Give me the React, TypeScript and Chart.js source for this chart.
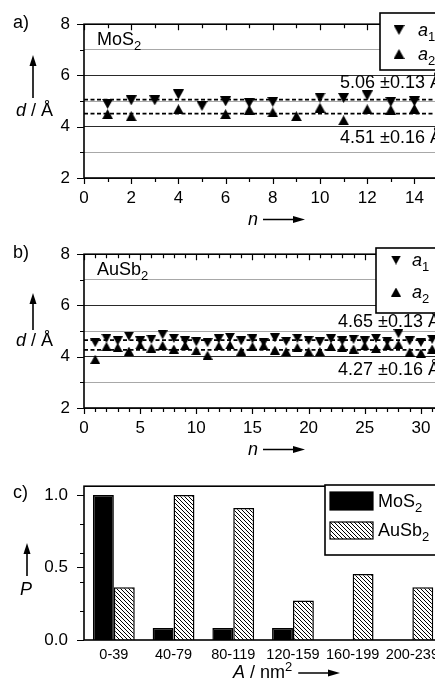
import React, { useEffect, useRef } from 'react';
import { Chart, registerables } from 'chart.js';
Chart.register(...registerables);

const FONT = '"Liberation Sans", Arial, Helvetica, sans-serif';

// ---- Panel a: MoS2 ----
const nMoS2 = [1, 2, 3, 4, 5, 6, 7, 8, 9, 10, 11, 12, 13, 14];
const a1MoS2 = [4.89, 5.03, 5.03, 5.26, 4.81, 4.99, 4.93, 4.97, null, 5.14, 5.12, 5.22, 4.97, 4.99];
const a2MoS2 = [4.49, 4.41, null, 4.68, null, 4.49, 4.66, 4.56, 4.41, 4.74, 4.25, 4.68, 4.66, 4.7];
const meanMoS2 = [5.06, 4.51];
const meanLabelsMoS2 = ['5.06 ±0.13 Å', '4.51 ±0.16 Å'];

// ---- Panel b: AuSb2 ----
const nAuSb2 = [1, 2, 3, 4, 5, 6, 7, 8, 9, 10, 11, 12, 13, 14, 15, 16, 17, 18, 19, 20, 21, 22, 23, 24, 25, 26, 27, 28, 29, 30, 31];
const a1AuSb2 = [4.55, 4.72, 4.62, 4.8, 4.62, 4.68, 4.86, 4.72, 4.62, 4.58, 4.55, 4.7, 4.76, 4.62, 4.7, 4.56, 4.74, 4.6, 4.72, 4.64, 4.58, 4.7, 4.62, 4.68, 4.62, 4.72, 4.6, 4.9, 4.62, 4.56, 4.68];
const a2AuSb2 = [3.9, 4.4, 4.36, 4.22, 4.46, 4.34, 4.44, 4.3, 4.44, 4.24, 4.06, 4.42, 4.46, 4.22, 4.4, 4.44, 4.26, 4.2, 4.36, 4.2, 4.2, 4.4, 4.36, 4.3, 4.42, 4.32, 4.42, 4.48, 4.18, 4.14, 4.3];
const meanAuSb2 = [4.65, 4.27];
const meanLabelsAuSb2 = ['4.65 ±0.13 Å', '4.27 ±0.16 Å'];

// ---- Panel c: area distribution ----
const areaBins = ['0-39', '40-79', '80-119', '120-159', '160-199', '200-239'];
const pMoS2 = [1.0, 0.083, 0.083, 0.083, 0, 0];
const pAuSb2 = [0.364, 1.0, 0.909, 0.273, 0.455, 0.364];
const pTicks = [0, 0.2, 0.4, 0.5, 0.6, 0.8, 1.0];
const pLabelTicks = [0, 0.5, 1.0];

const CW = 470;
const CH = 230;

type Part = { t: string; it?: boolean; sub?: boolean; sup?: boolean };

function rich(ctx: CanvasRenderingContext2D, parts: Part[], x: number, y: number, size: number) {
  let cx = x;
  ctx.textAlign = 'left';
  ctx.textBaseline = 'alphabetic';
  for (const p of parts) {
    const s = p.sub || p.sup ? Math.round(size * 0.72) : size;
    ctx.font = `${p.it ? 'italic ' : ''}${s}px ${FONT}`;
    const dy = p.sub ? size * 0.3 : p.sup ? -size * 0.4 : 0;
    ctx.fillText(p.t, cx, y + dy);
    cx += ctx.measureText(p.t).width;
  }
  return cx;
}

function arrowUp(ctx: CanvasRenderingContext2D, x: number, top: number, bottom: number) {
  ctx.beginPath();
  ctx.lineWidth = 1.6;
  ctx.moveTo(x, bottom);
  ctx.lineTo(x, top + 8);
  ctx.stroke();
  ctx.beginPath();
  ctx.moveTo(x, top);
  ctx.lineTo(x - 3.5, top + 11);
  ctx.lineTo(x + 3.5, top + 11);
  ctx.closePath();
  ctx.fill();
}

function arrowRight(ctx: CanvasRenderingContext2D, x1: number, x2: number, y: number) {
  ctx.beginPath();
  ctx.lineWidth = 1.6;
  ctx.moveTo(x1, y);
  ctx.lineTo(x2 - 8, y);
  ctx.stroke();
  ctx.beginPath();
  ctx.moveTo(x2, y);
  ctx.lineTo(x2 - 12, y - 3.5);
  ctx.lineTo(x2 - 12, y + 3.5);
  ctx.closePath();
  ctx.fill();
}

function makeTri(w: number, h: number, down: boolean) {
  const c = document.createElement('canvas');
  c.width = w;
  c.height = h;
  const g = c.getContext('2d')!;
  g.fillStyle = '#000';
  g.beginPath();
  if (down) {
    g.moveTo(0, 0);
    g.lineTo(w, 0);
    g.lineTo(w / 2, h);
  } else {
    g.moveTo(w / 2, 0);
    g.lineTo(w, h);
    g.lineTo(0, h);
  }
  g.closePath();
  g.fill();
  return c;
}

function makeHatch() {
  const c = document.createElement('canvas');
  c.width = 4;
  c.height = 4;
  const g = c.getContext('2d')!;
  g.fillStyle = '#fff';
  g.fillRect(0, 0, 4, 4);
  g.strokeStyle = '#000';
  g.lineWidth = 1;
  g.beginPath();
  g.moveTo(-1, -1);
  g.lineTo(5, 5);
  g.moveTo(-1, 3);
  g.lineTo(1, 5);
  g.moveTo(3, -1);
  g.lineTo(5, 1);
  g.stroke();
  return g.createPattern(c, 'repeat')!;
}

type ScatterOpts = {
  n: number[];
  a1: (number | null)[];
  a2: (number | null)[];
  means: number[];
  meanLabels: string[];
  xMax: number;
  labelEvery: number;
  right: number;
  panel: string;
  title: Part[];
  arrowTop: number;
  arrowBottom: number;
  meanLabelX: number;
  meanLabelY: number[];
  legend: { x: number; y: number; h: number; r1: number; r2: number; mx: number; tx: number };
  triW: number;
  triH: number;
};

function scatterConfig(o: ScatterOpts): any {
  const down = makeTri(o.triW, o.triH, true);
  const up = makeTri(o.triW, o.triH, false);
  const pts = (arr: (number | null)[]) =>
    o.n.map((n, i) => ({ x: n, y: arr[i] })).filter((p) => p.y !== null);
  const meanLine = (m: number) => ({
    type: 'line',
    data: [
      { x: 0, y: m },
      { x: o.xMax, y: m },
    ],
    borderColor: '#000',
    borderWidth: 1.8,
    borderDash: [4, 2.5],
    pointRadius: 0,
    order: 5,
  });
  const decor = {
    id: 'decor',
    afterDraw(chart: any) {
      const { ctx, chartArea: ca, scales } = chart;
      const x = scales.x;
      const y = scales.y;
      ctx.save();
      ctx.strokeStyle = '#000';
      ctx.fillStyle = '#000';
      ctx.lineWidth = 1.2;
      ctx.beginPath();
      for (const t of x.ticks) {
        const px = Math.round(x.getPixelForValue(t.value)) + 0.5;
        const major = t.value % o.labelEvery === 0;
        const L = major ? 6 : 4;
        ctx.moveTo(px, ca.bottom);
        ctx.lineTo(px, ca.bottom + L);
        ctx.moveTo(px, ca.top);
        ctx.lineTo(px, ca.top + L);
      }
      for (const t of y.ticks) {
        const py = Math.round(y.getPixelForValue(t.value)) + 0.5;
        const L = t.value % 2 === 0 ? 7 : 4;
        ctx.moveTo(ca.left - L, py);
        ctx.lineTo(ca.left, py);
      }
      ctx.stroke();
      ctx.lineWidth = 1.6;
      ctx.strokeRect(ca.left, ca.top, ca.right - ca.left, ca.bottom - ca.top);

      rich(ctx, [{ t: o.panel }], 13, 28, 18);
      rich(ctx, o.title, 97, 45, 18);
      rich(ctx, [{ t: 'd', it: true }, { t: ' / Å' }], 16, 116, 18);
      arrowUp(ctx, 33, o.arrowTop, o.arrowBottom);
      rich(ctx, [{ t: o.meanLabels[0] }], o.meanLabelX, o.meanLabelY[0], 18);
      rich(ctx, [{ t: o.meanLabels[1] }], o.meanLabelX, o.meanLabelY[1], 18);
      rich(ctx, [{ t: 'n', it: true }], 248, 225, 18);
      arrowRight(ctx, 263, 305, 219.5);

      const lg = o.legend;
      ctx.fillStyle = '#fff';
      ctx.fillRect(lg.x, lg.y, 90, lg.h);
      ctx.lineWidth = 1.6;
      ctx.strokeRect(lg.x, lg.y, 90, lg.h);
      ctx.fillStyle = '#000';
      ctx.drawImage(down, lg.mx - o.triW / 2, lg.r1 - o.triH / 2);
      ctx.drawImage(up, lg.mx - o.triW / 2, lg.r2 - o.triH / 2);
      rich(ctx, [{ t: 'a', it: true }, { t: '1', sub: true }], lg.tx, lg.r1 + 6, 18);
      rich(ctx, [{ t: 'a', it: true }, { t: '2', sub: true }], lg.tx, lg.r2 + 6, 18);
      ctx.restore();
    },
  };
  return {
    type: 'scatter',
    data: {
      datasets: [
        meanLine(o.means[0]),
        meanLine(o.means[1]),
        { label: 'a1', data: pts(o.a1), pointStyle: down, pointRadius: 5, order: 1 },
        { label: 'a2', data: pts(o.a2), pointStyle: up, pointRadius: 5, order: 1 },
      ],
    },
    options: {
      responsive: false,
      animation: false,
      devicePixelRatio: 1,
      events: [],
      layout: { padding: { top: 23, right: CW - o.right, left: 0, bottom: 0 } },
      plugins: { legend: { display: false }, tooltip: { enabled: false } },
      scales: {
        x: {
          type: 'linear',
          min: 0,
          max: o.xMax,
          afterFit: (s: any) => {
            s.height = 52;
          },
          afterBuildTicks: (s: any) => {
            const t = [];
            for (let v = 0; v <= o.xMax; v++) t.push({ value: v });
            s.ticks = t;
          },
          ticks: {
            autoSkip: false,
            maxRotation: 0,
            color: '#000',
            padding: 10,
            font: { family: FONT, size: 17 },
            callback: (v: number) => (v % o.labelEvery === 0 ? String(v) : ''),
          },
          grid: { display: false, drawTicks: false },
          border: { display: false },
        },
        y: {
          min: 2,
          max: 8,
          afterFit: (s: any) => {
            s.width = 84;
          },
          ticks: {
            stepSize: 1,
            color: '#000',
            padding: 14,
            font: { family: FONT, size: 17 },
            callback: (v: number) => (v % 2 === 0 ? String(v) : ''),
          },
          grid: {
            drawTicks: false,
            lineWidth: 1,
            color: (c: any) => (c.tick && c.tick.value % 2 === 0 ? '#2a2a2a' : '#a8a8a8'),
          },
          border: { display: false },
        },
      },
    },
    plugins: [decor],
  };
}

function barConfig(): any {
  const hatch = makeHatch();
  const right = 84 + 6 * 59.7;
  const decor = {
    id: 'decorC',
    afterDraw(chart: any) {
      const { ctx, chartArea: ca, scales } = chart;
      const y = scales.y;
      ctx.save();
      ctx.strokeStyle = '#000';
      ctx.fillStyle = '#000';
      ctx.lineWidth = 1.2;
      ctx.beginPath();
      for (const t of y.ticks) {
        const py = Math.round(y.getPixelForValue(t.value)) + 0.5;
        const L = pLabelTicks.includes(t.value) ? 7 : 4;
        ctx.moveTo(ca.left - L, py);
        ctx.lineTo(ca.left, py);
      }
      ctx.stroke();
      ctx.lineWidth = 1.6;
      ctx.strokeRect(ca.left, ca.top, ca.right - ca.left, ca.bottom - ca.top);

      rich(ctx, [{ t: 'c)' }], 13, 38, 18);
      arrowUp(ctx, 27, 83, 116);
      rich(ctx, [{ t: 'P', it: true }], 20, 135, 18);
      const ex = rich(ctx, [{ t: 'A', it: true }, { t: ' / nm' }, { t: '2', sup: true }], 233, 218, 18);
      arrowRight(ctx, ex + 6, 340, 213);

      // legend
      const lx = 325;
      const ly = 25;
      ctx.fillStyle = '#fff';
      ctx.fillRect(lx, ly, 140, 70);
      ctx.lineWidth = 1.6;
      ctx.strokeRect(lx, ly, 140, 70);
      ctx.fillStyle = '#000';
      ctx.fillRect(330, 32, 43, 18);
      ctx.lineWidth = 1.2;
      ctx.strokeRect(330, 32, 43, 18);
      ctx.fillStyle = hatch;
      ctx.fillRect(330, 62, 43, 17);
      ctx.strokeRect(330, 62, 43, 17);
      ctx.fillStyle = '#000';
      rich(ctx, [{ t: 'MoS' }, { t: '2', sub: true }], 378, 47, 18);
      rich(ctx, [{ t: 'AuSb' }, { t: '2', sub: true }], 378, 76, 18);
      ctx.restore();
    },
  };
  return {
    type: 'bar',
    data: {
      labels: areaBins,
      datasets: [
        {
          label: 'MoS2',
          data: pMoS2,
          backgroundColor: '#000',
          borderColor: '#000',
          borderWidth: (c: any) => (c.raw === 0 ? 0 : 1.5),
        },
        {
          label: 'AuSb2',
          data: pAuSb2,
          backgroundColor: hatch,
          borderColor: '#000',
          borderWidth: 1.5,
        },
      ],
    },
    options: {
      responsive: false,
      animation: false,
      devicePixelRatio: 1,
      events: [],
      datasets: { bar: { categoryPercentage: 0.7, barPercentage: 1 } },
      layout: { padding: { top: 23, right: CW - right, left: 0, bottom: 0 } },
      plugins: { legend: { display: false }, tooltip: { enabled: false } },
      scales: {
        x: {
          afterFit: (s: any) => {
            s.height = 50;
          },
          ticks: {
            autoSkip: false,
            maxRotation: 0,
            color: '#000',
            padding: 6,
            font: { family: FONT, size: 14.5 },
          },
          grid: { display: false, drawTicks: false },
          border: { display: false },
        },
        y: {
          min: 0,
          max: 1.06,
          afterFit: (s: any) => {
            s.width = 84;
          },
          afterBuildTicks: (s: any) => {
            s.ticks = pTicks.map((v) => ({ value: v }));
          },
          ticks: {
            color: '#000',
            padding: 16,
            font: { family: FONT, size: 17 },
            callback: (v: number) => (pLabelTicks.includes(v) ? v.toFixed(1) : ''),
          },
          grid: { display: false, drawTicks: false },
          border: { display: false },
        },
      },
    },
    plugins: [decor],
  };
}

export default function App() {
  const refA = useRef<HTMLCanvasElement>(null);
  const refB = useRef<HTMLCanvasElement>(null);
  const refC = useRef<HTMLCanvasElement>(null);

  useEffect(() => {
    const charts: Chart[] = [];
    charts.push(
      new Chart(
        refA.current!,
        scatterConfig({
          n: nMoS2,
          a1: a1MoS2,
          a2: a2MoS2,
          means: meanMoS2,
          meanLabels: meanLabelsMoS2,
          xMax: 15,
          labelEvery: 2,
          right: 84 + 15 * 23.6,
          panel: 'a)',
          title: [{ t: 'MoS' }, { t: '2', sub: true }],
          arrowTop: 55,
          arrowBottom: 98,
          meanLabelX: 340,
          meanLabelY: [88, 143],
          legend: { x: 380, y: 13, h: 57, r1: 30, r2: 54, mx: 399, tx: 418 },
          triW: 11,
          triH: 10,
        })
      )
    );
    charts.push(
      new Chart(
        refB.current!,
        scatterConfig({
          n: nAuSb2,
          a1: a1AuSb2,
          a2: a2AuSb2,
          means: meanAuSb2,
          meanLabels: meanLabelsAuSb2,
          xMax: 32,
          labelEvery: 5,
          right: 84 + 32 * 11.23,
          panel: 'b)',
          title: [{ t: 'AuSb' }, { t: '2', sub: true }],
          arrowTop: 63,
          arrowBottom: 100,
          meanLabelX: 338,
          meanLabelY: [97, 145],
          legend: { x: 376, y: 18, h: 65, r1: 30, r2: 62, mx: 396, tx: 412 },
          triW: 10,
          triH: 9,
        })
      )
    );
    charts.push(new Chart(refC.current!, barConfig()));
    return () => charts.forEach((c) => c.destroy());
  }, []);

  const cs = (top: number): React.CSSProperties => ({
    position: 'absolute',
    left: 0,
    top,
    width: CW,
    height: CH,
  });

  return (
    <div
      style={{
        position: 'absolute',
        left: 0,
        top: 0,
        width: 435,
        height: 690,
        overflow: 'hidden',
        background: '#fff',
      }}
    >
      <canvas ref={refA} width={CW} height={CH} style={cs(0)} />
      <canvas ref={refB} width={CW} height={CH} style={cs(230)} />
      <canvas ref={refC} width={CW} height={CH} style={cs(460)} />
    </div>
  );
}
